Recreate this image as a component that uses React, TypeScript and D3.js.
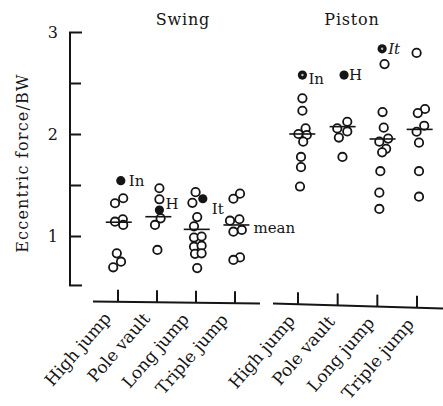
import * as d3 from 'd3';

const groups = ['Swing', 'Piston'];
const categories = ['High jump', 'Pole vault', 'Long jump', 'Triple jump'];

// Eccentric force / BW per athlete, one array per event
const swingValues = [
  [1.375, 1.326, 1.169, 1.145, 1.113, 0.835, 0.753, 0.698],
  [1.473, 1.365, 1.178, 1.113, 0.868],
  [1.435, 1.33, 1.19, 1.1, 0.99, 1.0, 0.9, 0.91, 0.83, 0.835, 0.69],
  [1.42, 1.37, 1.169, 1.155, 1.064, 1.047, 0.795, 0.77],
];
const pistonValues = [
  [2.355, 2.233, 2.06, 2.005, 1.995, 1.93, 1.78, 1.68, 1.49],
  [2.125, 2.06, 2.03, 1.97, 1.78],
  [2.69, 2.22, 2.067, 1.96, 1.93, 1.86, 1.825, 1.64, 1.43, 1.27],
  [2.8, 2.25, 2.21, 2.086, 2.027, 1.92, 1.64, 1.39],
];
// sideways dodge of overlapping points, in marker radii
const swingDodge = [
  [1.3, -0.75, 1.2, -0.75, 1.3, -0.3, 0.75, -1.2],
  [0.6, 0.6, 0.9, -0.5, 0.1],
  [-0.1, -0.9, 0.3, -0.5, -0.5, 1.4, -0.5, 1.4, -0.25, 1.4, 0.3],
  [1.25, -0.4, 1.1, -1.25, 1.7, -0.4, 1.25, -0.4],
];
const pistonDodge = [
  [1.1, 1.1, 1.9, 0.1, 2.2, 1.3, 0.75, 0.75, 0.5],
  [2.4, -0.1, 2.4, 0.3, 1.2],
  [1.8, 1.3, 1.6, 2.7, 0.5, 2.2, 1.2, 0.75, 0.5, 0.5],
  [-0.1, 2, 0.2, 1.8, -0.1, 0.5, 0.5, 0.5],
];
const swingMeans = [1.14, 1.194, 1.07, 1.113];
const pistonMeans = [2.005, 2.077, 1.956, 2.05];

// highlighted athletes: label, event index, value, dodge
const swingMarked: [string, number, number, number][] = [
  ['In', 0, 1.547, 0.7],
  ['H', 1, 1.26, 0.6],
  ['It', 2, 1.37, 1.7],
];
const pistonMarked: [string, number, number, number][] = [
  ['In', 0, 2.583, 1.1],
  ['H', 1, 2.583, 1.6],
  ['It', 2, 2.84, 1.2],
];

const yTicks = [1, 2, 3];
const yMinorTicks = [1.5, 2.5];

const W = 443;
const H = 406;
const R = 4.2;
const FONT = '"DejaVu Serif", serif';
const INK = '#151515';

export default function App() {
  const y = d3.scaleLinear().domain([1, 3]).range([236.5, 32.5]);
  const xSwing = d3.scalePoint<string>().domain(categories).range([118, 235]);
  const xPiston = d3.scalePoint<string>().domain(categories).range([298, 417]);
  const axisX = 70;
  const axisBottom = y(0.52);

  const panels = [
    { name: groups[0], x: xSwing, values: swingValues, dodge: swingDodge, means: swingMeans, marked: swingMarked, line: [93, 260], base: 301.5, slope: 0.012, labelDx: -6 },
    { name: groups[1], x: xPiston, values: pistonValues, dodge: pistonDodge, means: pistonMeans, marked: pistonMarked, line: [273, 443], base: 303.5, slope: 0.03, labelDx: -2 },
  ];

  // label placement for highlighted points (offset from the point)
  const labelOffset: Record<string, [number, number][]> = {
    Swing: [[8, 5], [6, -1], [9, 15]],
    Piston: [[6, 9], [5, 5], [6, 5]],
  };

  return (
    <svg width={W} height={H} style={{ position: 'absolute', left: 0, top: 0, background: '#fff' }} fontFamily={FONT}>
      {/* y axis */}
      <g stroke={INK} strokeWidth={2} fill="none">
        <line x1={axisX} y1={y(3)} x2={axisX} y2={axisBottom} />
        <line x1={axisX - 1} y1={y(3)} x2={axisX + 12} y2={y(3)} />
        <line x1={axisX - 1} y1={axisBottom} x2={axisX + 12} y2={axisBottom} />
        {yTicks.concat(yMinorTicks).filter((t) => t < 3).map((t) => (
          <line key={t} x1={axisX} y1={y(t)} x2={axisX + 11} y2={y(t)} />
        ))}
      </g>
      {yTicks.map((t) => (
        <text key={t} x={axisX - 12} y={y(t) + 5} textAnchor="end" fontSize={16} fill={INK}>
          {t}
        </text>
      ))}
      <text
        transform={`translate(28,${y(1.72)}) rotate(-90)`}
        textAnchor="middle"
        fontSize={16}
        letterSpacing={1.2}
        fill={INK}
      >
        Eccentric force/BW
      </text>

      {panels.map((p) => {
        const x = p.x;
        const axisY = (xx: number) => p.base + (xx - p.line[0]) * p.slope;
        const mid = (p.line[0] + p.line[1]) / 2;
        return (
          <g key={p.name}>
            <text x={p.name === 'Swing' ? 183 : 352} y={25} textAnchor="middle" fontSize={16} letterSpacing={0.8} fill={INK}>
              {p.name}
            </text>
            {/* category axis */}
            <line x1={p.line[0]} y1={axisY(p.line[0])} x2={p.line[1]} y2={axisY(p.line[1])} stroke={INK} strokeWidth={2} />
            {categories.map((c) => {
              const cx = x(c)!;
              return (
                <g key={c}>
                  <line x1={cx} y1={axisY(cx)} x2={cx} y2={axisY(cx) - 12} stroke={INK} strokeWidth={2} />
                  <text
                    transform={`translate(${cx + p.labelDx},${axisY(cx) + 17}) rotate(-49)`}
                    textAnchor="end"
                    fontSize={17}
                    fill={INK}
                  >
                    {c}
                  </text>
                </g>
              );
            })}
            {/* athletes */}
            {categories.map((c, i) => {
              const cx = x(c)!;
              const centre = cx + (d3.mean(p.dodge[i]) ?? 0) * 4;
              return (
                <g key={c}>
                  {p.values[i].map((v, j) => (
                    <circle
                      key={j}
                      cx={cx + p.dodge[i][j] * 4}
                      cy={y(v)}
                      r={R}
                      fill="#fff"
                      stroke={INK}
                      strokeWidth={1.8}
                    />
                  ))}
                  <line
                    x1={centre - 13}
                    x2={centre + 13}
                    y1={y(p.means[i])}
                    y2={y(p.means[i])}
                    stroke={INK}
                    strokeWidth={1.6}
                  />
                </g>
              );
            })}
            {p.marked.map(([label, ci, v, d], k) => {
              const px = x(categories[ci])! + d * 4;
              const py = y(v);
              const [dx, dy] = labelOffset[p.name][k];
              const ring = p.name === 'Piston' && label !== 'H';
              return (
                <g key={label}>
                  <circle cx={px} cy={py} r={R + 0.4} fill={INK} />
                  {ring && <circle cx={px} cy={py} r={1.2} fill="#bbb" />}
                  <text
                    x={px + dx}
                    y={py + dy}
                    fontSize={15}
                    fontStyle={p.name === 'Piston' && label === 'It' ? 'italic' : 'normal'}
                    fill={INK}
                  >
                    {label}
                  </text>
                </g>
              );
            })}
            {p.name === 'Swing' && (
              <text x={mid + 77} y={y(p.means[3]) + 8} fontSize={15} fill={INK}>
                mean
              </text>
            )}
          </g>
        );
      })}
    </svg>
  );
}
